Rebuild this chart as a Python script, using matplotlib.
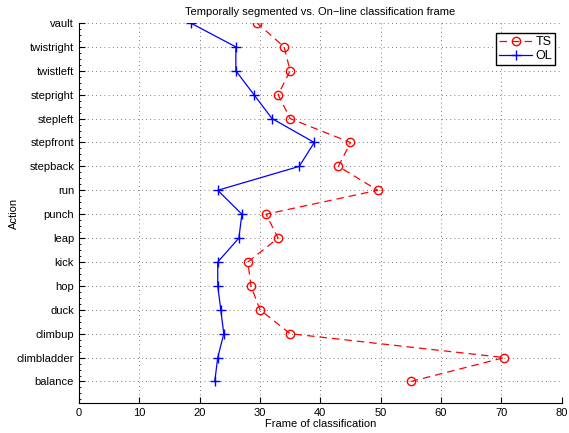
import numpy as np
import matplotlib.pyplot as plt
from matplotlib.ticker import MultipleLocator

plt.rcParams["font.family"] = ["Liberation Sans", "DejaVu Sans"]

actions = ["balance", "climbladder", "climbup", "duck", "hop", "kick", "leap", "punch",
           "run", "stepback", "stepfront", "stepleft", "stepright", "twistleft",
           "twistright", "vault"]
ts_frames = [55, 70.5, 35, 30, 28.5, 28, 33, 31, 49.5, 43, 45, 35, 33, 35, 34, 29.5]
ol_frames = [22.5, 23, 24, 23.5, 23, 23, 26.5, 27, 23, 36.5, 39, 32, 29, 26, 26, 18.5]

pos = np.arange(1, len(actions) + 1)

fig = plt.figure(figsize=(5.69, 4.33), dpi=100)
ax = fig.add_axes([0.1388, 0.0693, 0.8483, 0.8776])

ax.plot(ts_frames, pos, color="red", linestyle=(0, (6, 4)), linewidth=0.9,
        marker="o", markersize=6, markerfacecolor="none", markeredgecolor="red",
        label="TS")
ax.plot(ol_frames, pos, color="blue", linestyle="-", linewidth=0.9,
        marker="+", markersize=7, markeredgewidth=1.0, label="OL")

ax.set_xlim(0, 80)
ax.set_ylim(0.1, 16)
ax.set_xticks(np.arange(0, 81, 10))
ax.set_yticks(pos)
ax.set_yticklabels(actions)
ax.yaxis.set_minor_locator(MultipleLocator(0.25))
ax.tick_params(axis="both", which="both", direction="in", labelsize=8)
ax.tick_params(axis="y", which="minor", length=1.5)
ax.tick_params(axis="both", which="major", length=4)

for s in ["top", "right"]:
    ax.spines[s].set_visible(False)
ax.grid(True, color="#555555", linestyle=(0, (1, 4)), linewidth=0.6)
ax.set_axisbelow(True)

ax.set_title("Temporally segmented vs. On\u2212line classification frame", fontsize=8, pad=6)
ax.set_xlabel("Frame of classification", fontsize=8, labelpad=1)
ax.set_ylabel("Action", fontsize=8)
ax.yaxis.set_label_coords(-0.125, 0.5)

leg = ax.legend(loc="upper right", fontsize=9, fancybox=False, edgecolor="black",
                framealpha=1, handlelength=2.6, handletextpad=0.3, borderpad=0.25,
                labelspacing=0.15, bbox_to_anchor=(1.0, 0.99))
leg.get_frame().set_linewidth(1.0)

fig.savefig("out.png", dpi=100)
